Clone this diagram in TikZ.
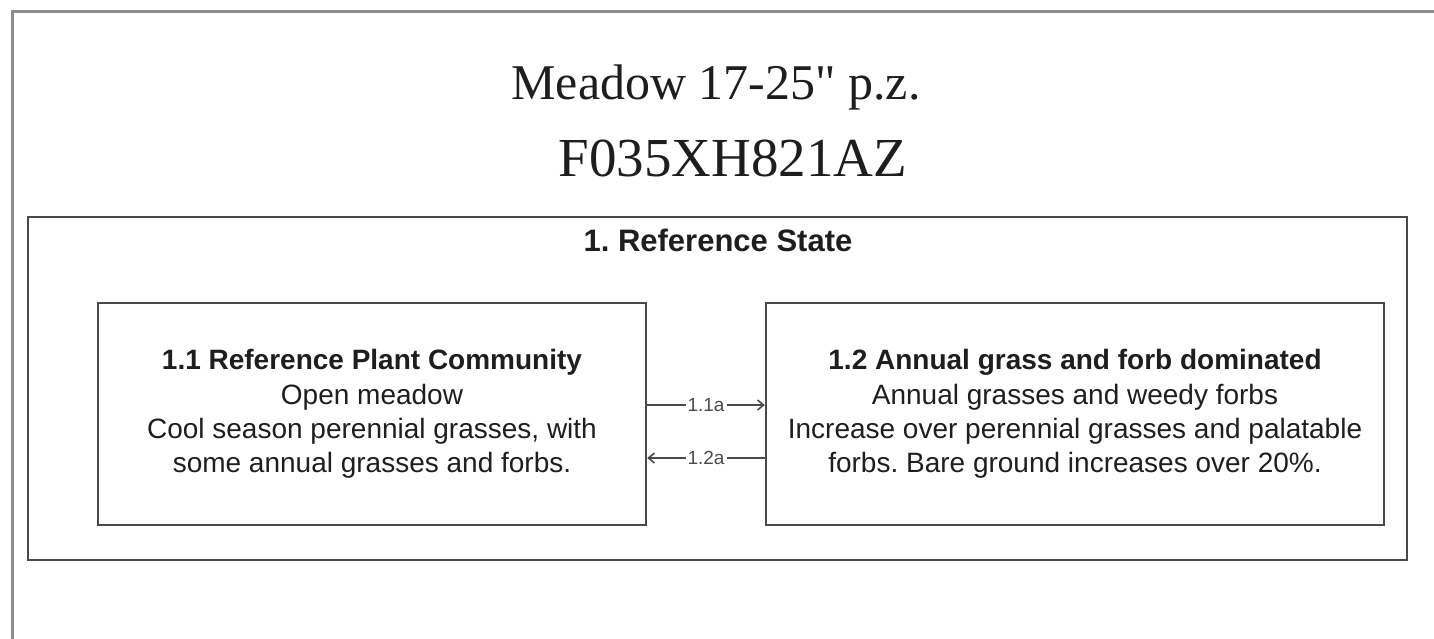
\documentclass[tikz,border=0pt]{standalone}
\usepackage{fontspec}
\setmainfont{Liberation Serif}[Ligatures=TeXOff]
\setsansfont{Liberation Sans}
\usetikzlibrary{positioning,arrows.meta}
\definecolor{framegray}{HTML}{8C8C8C}
\definecolor{boxgray}{HTML}{4A4A4A}
\definecolor{inkgray}{HTML}{1E1E1E}
\frenchspacing

\begin{document}
\begin{tikzpicture}[x=1pt,y=-1pt,
  every node/.style={inner sep=0pt},
  titletext/.style={text=inkgray,anchor=base},
  statebox/.style={draw=boxgray,line width=2.4pt,minimum width=1379pt,minimum height=343pt},
  commbox/.style={draw=boxgray,line width=2.4pt,minimum height=222pt,align=center,text=inkgray,
    font=\sffamily\fontsize{28}{34.4}\selectfont},
  trans/.style={draw=boxgray,line width=1.6pt,-{Straight Barb[length=6pt,width=10pt]}},
  translabel/.style={fill=white,inner xsep=2pt,text=boxgray,font=\sffamily\fontsize{19}{19}\selectfont}]
\useasboundingbox (0,0) rectangle (1434,639);
% Page frame
\draw[framegray,line width=3pt] (12,639) -- (12,12) -- (1434,12);
% Title
\node[titletext,font=\fontsize{50}{60}\selectfont] (site) at (716,100) {Meadow 17-25" p.z.};
\node[titletext,font=\fontsize{55}{60}\selectfont] (code) at (733,177) {F035XH821AZ};

% State 1 and its two communities
\node[statebox] (state) at (717.5,388.5) {};
\node[font=\sffamily\bfseries\fontsize{31}{31}\selectfont,anchor=base,text=inkgray] (statename) at (718,251) {1. Reference State};
\node[commbox,minimum width=548pt] (rpc) at (372,414) {\textbf{1.1 Reference Plant Community}\\Open meadow\\Cool season perennial grasses, with\\some annual grasses and forbs.};
\node[commbox,minimum width=618pt] (agf) at (1075,414) {\textbf{1.2 Annual grass and forb dominated}\\Annual grasses and weedy forbs\\Increase over perennial grasses and palatable\\forbs. Bare ground increases over 20\%.};

% Pathways
\draw[trans] ([yshift=9pt]rpc.east) -- node[translabel] (p11a) {1.1a} ([yshift=9pt]agf.west);
\draw[trans] ([yshift=-44pt]agf.west) -- node[translabel] (p12a) {1.2a} ([yshift=-44pt]rpc.east);
\end{tikzpicture}
\end{document}
